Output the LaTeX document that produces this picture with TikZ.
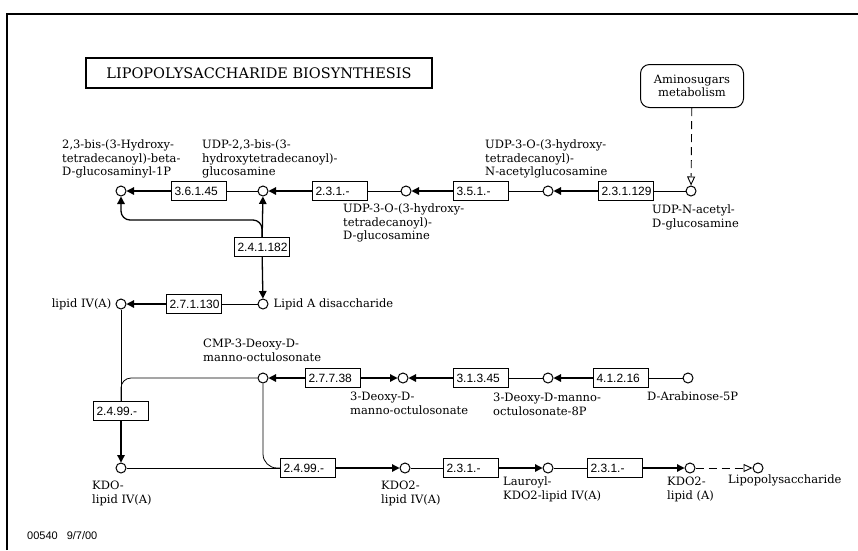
\documentclass[tikz,border=0pt]{standalone}
\usepackage{fontspec}
\setmainfont{DejaVu Serif}
\newfontfamily\ecfont{Liberation Sans}
\usetikzlibrary{positioning,arrows.meta,calc}

\begin{document}
\begin{tikzpicture}[
    x=1pt, y=-1pt,
    >={Triangle[length=7.5pt,width=7.5pt]},
    every node/.style={font=\fontsize{11.5}{13.5}\selectfont},
    cpd/.style={circle, draw, line width=1pt, minimum size=10pt, inner sep=0pt},
    ec/.style={rectangle, draw, line width=1pt, font=\ecfont\fontsize{12}{14}\selectfont,
        text width=49pt, align=left, inner xsep=3pt, minimum height=19pt},
    lbl/.style={align=left, inner sep=0pt, anchor=north west},
    mapbox/.style={rectangle, draw, rounded corners=9pt, line width=1pt, align=center,
        minimum width=103pt, minimum height=43pt},
    titlebox/.style={rectangle, draw, line width=2.5pt, minimum width=346pt, minimum height=30pt,
        font=\fontsize{14.5}{17}\selectfont},
    sub/.style={line width=0.8pt},
    prd/.style={line width=1.3pt, ->},
    link/.style={line width=0.9pt, dash pattern=on 8pt off 5pt, -{Triangle[open,length=9pt,width=8pt]}}
]
\useasboundingbox (0,0) rectangle (858,550);

% frame and title
\draw[line width=1.5pt] (7,550) -- (7,14) -- (858,14);
\node[titlebox] (t_title) at (259,73) {LIPOPOLYSACCHARIDE BIOSYNTHESIS};
\node[mapbox] (m_amino) at (692,86) {Aminosugars\\metabolism};
\node[font=\ecfont\fontsize{11}{13}\selectfont, anchor=west, inner sep=0pt] (n_mapid) at (27,536) {00540\hspace{9pt}9/7/00};

% top row
\node[cpd] (c_bis1P) at (121,191) {};
\node[ec] (e_36145) at (199,191) {3.6.1.45};
\node[cpd] (c_udpbis) at (263,191) {};
\node[ec] (e_231a) at (340,191) {2.3.1.-};
\node[cpd] (c_udp3o) at (406,191) {};
\node[ec] (e_351) at (481,191) {3.5.1.-};
\node[cpd] (c_udp3onac) at (548,191) {};
\node[ec] (e_231129) at (626,191) {2.3.1.129};
\node[cpd] (c_udpglcnac) at (691,191) {};

\node[ec] (e_241182) at (262,247) {2.4.1.182};

% lipid row
\node[cpd] (c_lipidIV) at (121,304) {};
\node[ec] (e_271130) at (194,304) {2.7.1.130};
\node[cpd] (c_lipidA) at (263,304) {};

% KDO row
\node[cpd] (c_cmpkdo) at (263,378) {};
\node[ec] (e_27738) at (333,378) {2.7.7.38};
\node[cpd] (c_kdo) at (403,378) {};
\node[ec] (e_31345) at (481,378) {3.1.3.45};
\node[cpd] (c_kdo8p) at (548,378) {};
\node[ec] (e_41216) at (621,378) {4.1.2.16};
\node[cpd] (c_ara5p) at (688,378) {};

\node[ec] (e_2499a) at (121,411) {2.4.99.-};

% bottom row
\node[cpd] (c_kdolipid) at (121,468) {};
\node[ec] (e_2499b) at (308,468) {2.4.99.-};
\node[cpd] (c_kdo2lipidIV) at (405,468) {};
\node[ec] (e_231b) at (471,468) {2.3.1.-};
\node[cpd] (c_lauroyl) at (548,468) {};
\node[ec] (e_231c) at (615,468) {2.3.1.-};
\node[cpd] (c_kdo2lipidA) at (690,468) {};
\node[cpd] (c_lps) at (758,468) {};

% compound names
\node[lbl] (l_bis1P) at (62,140) {2,3-bis-(3-Hydroxy-\\tetradecanoyl)-beta-\\D-glucosaminyl-1P};
\node[lbl] (l_udpbis) at (202,140) {UDP-2,3-bis-(3-\\hydroxytetradecanoyl)-\\glucosamine};
\node[lbl] (l_udp3o) at (343,204) {UDP-3-O-(3-hydroxy-\\tetradecanoyl)-\\D-glucosamine};
\node[lbl] (l_udp3onac) at (485,140) {UDP-3-O-(3-hydroxy-\\tetradecanoyl)-\\N-acetylglucosamine};
\node[lbl] (l_udpglcnac) at (652,205) {UDP-N-acetyl-\\D-glucosamine};
\node[inner sep=0pt, left=4pt of c_lipidIV] (l_lipidIV) {lipid IV(A)};
\node[inner sep=0pt, right=5pt of c_lipidA] (l_lipidA) {Lipid A disaccharide};
\node[lbl] (l_cmpkdo) at (203,339) {CMP-3-Deoxy-D-\\manno-octulosonate};
\node[lbl] (l_kdo) at (350,392) {3-Deoxy-D-\\manno-octulosonate};
\node[lbl] (l_kdo8p) at (493,393) {3-Deoxy-D-manno-\\octulosonate-8P};
\node[lbl] (l_ara5p) at (647,392) {D-Arabinose-5P};
\node[lbl] (l_kdolipid) at (92,481) {KDO-\\lipid IV(A)};
\node[lbl] (l_kdo2lipidIV) at (381,481) {KDO2-\\lipid IV(A)};
\node[lbl] (l_lauroyl) at (503,477) {Lauroyl-\\KDO2-lipid IV(A)};
\node[lbl] (l_kdo2lipidA) at (667,477) {KDO2-\\lipid (A)};
\node[lbl] (l_lps) at (728,475) {Lipopolysaccharide};

% reactions, top row
\draw[link] (m_amino) -- (c_udpglcnac);
\draw[sub] (c_udpglcnac) -- (e_231129);
\draw[prd] (e_231129) -- (c_udp3onac);
\draw[sub] (c_udp3onac) -- (e_351);
\draw[prd] (e_351) -- (c_udp3o);
\draw[sub] (c_udp3o) -- (e_231a);
\draw[prd] (e_231a) -- (c_udpbis);
\draw[sub] (c_udpbis) -- (e_36145);
\draw[prd] (e_36145) -- (c_bis1P);

% lipid A disaccharide
\draw[prd] (e_241182) -- (c_udpbis);
\draw[prd, rounded corners=9pt] (e_241182.north) -- ++(0,-17) -| (c_bis1P);
\draw[prd] (e_241182) -- (c_lipidA);
\draw[sub] (c_lipidA) -- (e_271130);
\draw[prd] (e_271130) -- (c_lipidIV);

% KDO
\draw[sub] (c_ara5p) -- (e_41216);
\draw[prd] (e_41216) -- (c_kdo8p);
\draw[sub] (c_kdo8p) -- (e_31345);
\draw[prd] (e_31345) -- (c_kdo);
\draw[prd] (e_27738) -- (c_kdo);
\draw[prd] (e_27738) -- (c_cmpkdo);

% KDO transfer
\draw[sub] (c_lipidIV) -- (e_2499a);
\draw[sub, rounded corners=10pt] (c_cmpkdo) -| (e_2499a.north);
\draw[prd] (e_2499a) -- (c_kdolipid);
\draw[sub, rounded corners=14pt] (c_cmpkdo) |- (e_2499b);
\draw[sub] (c_kdolipid) -- (e_2499b);
\draw[prd] (e_2499b) -- (c_kdo2lipidIV);
\draw[sub] (c_kdo2lipidIV) -- (e_231b);
\draw[prd] (e_231b) -- (c_lauroyl);
\draw[sub] (c_lauroyl) -- (e_231c);
\draw[prd] (e_231c) -- (c_kdo2lipidA);
\draw[link] (c_kdo2lipidA) -- (c_lps);

\end{tikzpicture}
\end{document}
